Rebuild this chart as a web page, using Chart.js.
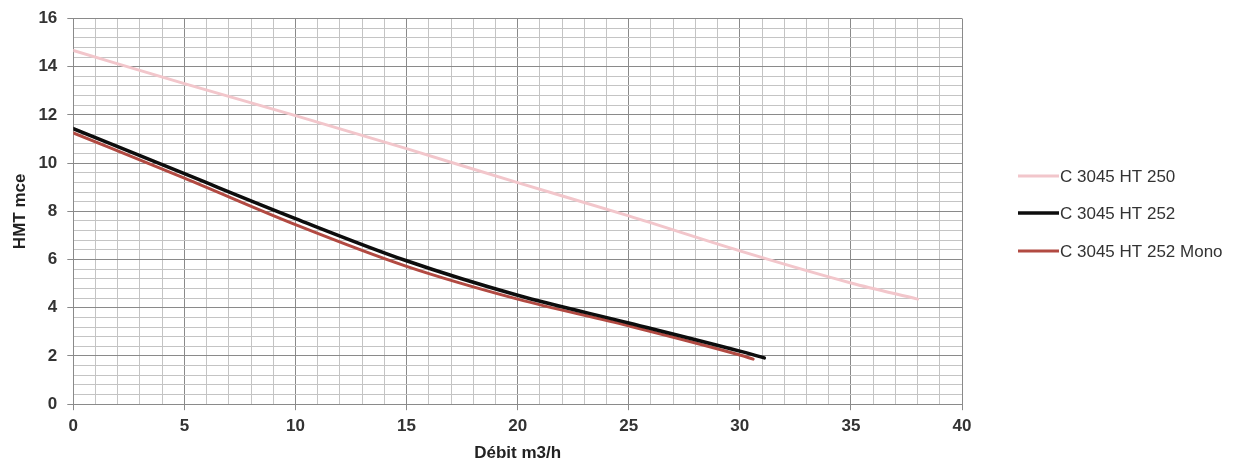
<!DOCTYPE html>
<html>
<head>
<meta charset="utf-8">
<script src="https://cdn.jsdelivr.net/npm/chart.js@4/dist/chart.umd.min.js"></script>
<style>
html,body{margin:0;padding:0;background:#fff;}
canvas{display:block;}
</style>
</head>
<body>
<canvas id="c" width="1247" height="466"></canvas>
<script>
// Series names
const seriesNames = ["C 3045 HT 250", "C 3045 HT 252", "C 3045 HT 252 Mono"];
// Flow (m3/h) and head (mce)
const flowHT250 = [0, 5, 10, 15, 20, 25, 30, 35, 38];
const headHT250 = [14.67, 13.3, 11.97, 10.6, 9.19, 7.81, 6.36, 5.03, 4.36];
const flowHT252 = [0, 5, 10, 15, 20, 25, 30, 31.1];
const headHT252 = [11.43, 9.56, 7.7, 5.95, 4.52, 3.37, 2.2, 1.92];
const flowMono = [0, 5, 10, 15, 20, 25, 30, 30.6];
const headMono = [11.25, 9.38, 7.45, 5.72, 4.36, 3.25, 2.04, 1.87];
// Axis ticks
const xTickLabels = [0, 5, 10, 15, 20, 25, 30, 35, 40];
const yTickLabels = [0, 2, 4, 6, 8, 10, 12, 14, 16];

const colors = ["#f2c6cb", "#0d0d0d", "#b24a42"];
const widths = [3, 3.5, 3];

function pts(xs, ys){ return xs.map((x,i)=>({x:x, y:ys[i]})); }

const FONT = "'Liberation Sans', Arial, sans-serif";
const MAJOR = "#8a8a8a", MINOR = "#c4c4c4";

function isLabel(v, list){ return list.some(t => Math.abs(t - v) < 1e-6); }

const legendPlugin = {
  id: 'sideLegend',
  afterDraw(chart){
    const ctx = chart.ctx;
    const ys = [176, 213, 251];
    ctx.save();
    chart.data.datasets.forEach((ds, i) => {
      const y = ys[i];
      ctx.strokeStyle = ds.borderColor;
      ctx.lineWidth = ds.borderWidth;
      ctx.beginPath();
      ctx.moveTo(1018, y);
      ctx.lineTo(1059, y);
      ctx.stroke();
      ctx.fillStyle = "#333";
      ctx.font = "17px " + FONT;
      ctx.textBaseline = "middle";
      ctx.textAlign = "left";
      ctx.fillText(ds.label, 1060, y + 1);
    });
    ctx.restore();
  }
};

new Chart(document.getElementById('c'), {
  type: 'line',
  data: {
    datasets: [
      { label: seriesNames[0], data: pts(flowHT250, headHT250) },
      { label: seriesNames[1], data: pts(flowHT252, headHT252) },
      { label: seriesNames[2], data: pts(flowMono, headMono) }
    ].map((d, i) => Object.assign(d, {
      borderColor: colors[i], backgroundColor: colors[i], borderWidth: widths[i],
      pointRadius: 0, pointHoverRadius: 0, fill: false,
      cubicInterpolationMode: 'monotone', borderCapStyle: 'round'
    }))
  },
  options: {
    responsive: false,
    animation: false,
    events: [],
    layout: { padding: { left: 10, right: 285, top: 12, bottom: 0 } },
    plugins: { legend: { display: false }, tooltip: { enabled: false } },
    scales: {
      x: {
        type: 'linear', min: 0, max: 40,
        ticks: {
          stepSize: 1, autoSkip: false, maxRotation: 0, padding: 6,
          color: "#333", font: { family: FONT, size: 17, weight: 'bold' },
          callback: v => isLabel(v, xTickLabels) ? String(Math.round(v)) : ''
        },
        grid: {
          tickLength: 6,
          color: c => (c.tick && isLabel(c.tick.value, xTickLabels)) ? MAJOR : MINOR,
          tickColor: c => (c.tick && isLabel(c.tick.value, xTickLabels)) ? MAJOR : 'rgba(0,0,0,0)',
          lineWidth: 1
        },
        border: { color: MAJOR },
        title: {
          display: true, text: 'Débit m3/h', color: "#222",
          font: { family: FONT, size: 17, weight: 'bold' },
          padding: { top: 1, bottom: 2 }
        }
      },
      y: {
        type: 'linear', min: 0, max: 16,
        ticks: {
          stepSize: 0.4, autoSkip: false, padding: 10,
          color: "#333", font: { family: FONT, size: 17, weight: 'bold', lineHeight: 1 },
          callback: v => isLabel(v, yTickLabels) ? String(Math.round(v)) : ''
        },
        grid: {
          tickLength: 6,
          color: c => (c.tick && isLabel(c.tick.value, yTickLabels)) ? MAJOR : MINOR,
          tickColor: c => (c.tick && isLabel(c.tick.value, yTickLabels)) ? MAJOR : 'rgba(0,0,0,0)',
          lineWidth: 1
        },
        border: { color: MAJOR },
        title: {
          display: true, text: 'HMT mce', color: "#222",
          font: { family: FONT, size: 17, weight: 'bold' },
          padding: { top: 0, bottom: -2 }
        }
      }
    }
  },
  plugins: [legendPlugin]
});
</script>
</body>
</html>
